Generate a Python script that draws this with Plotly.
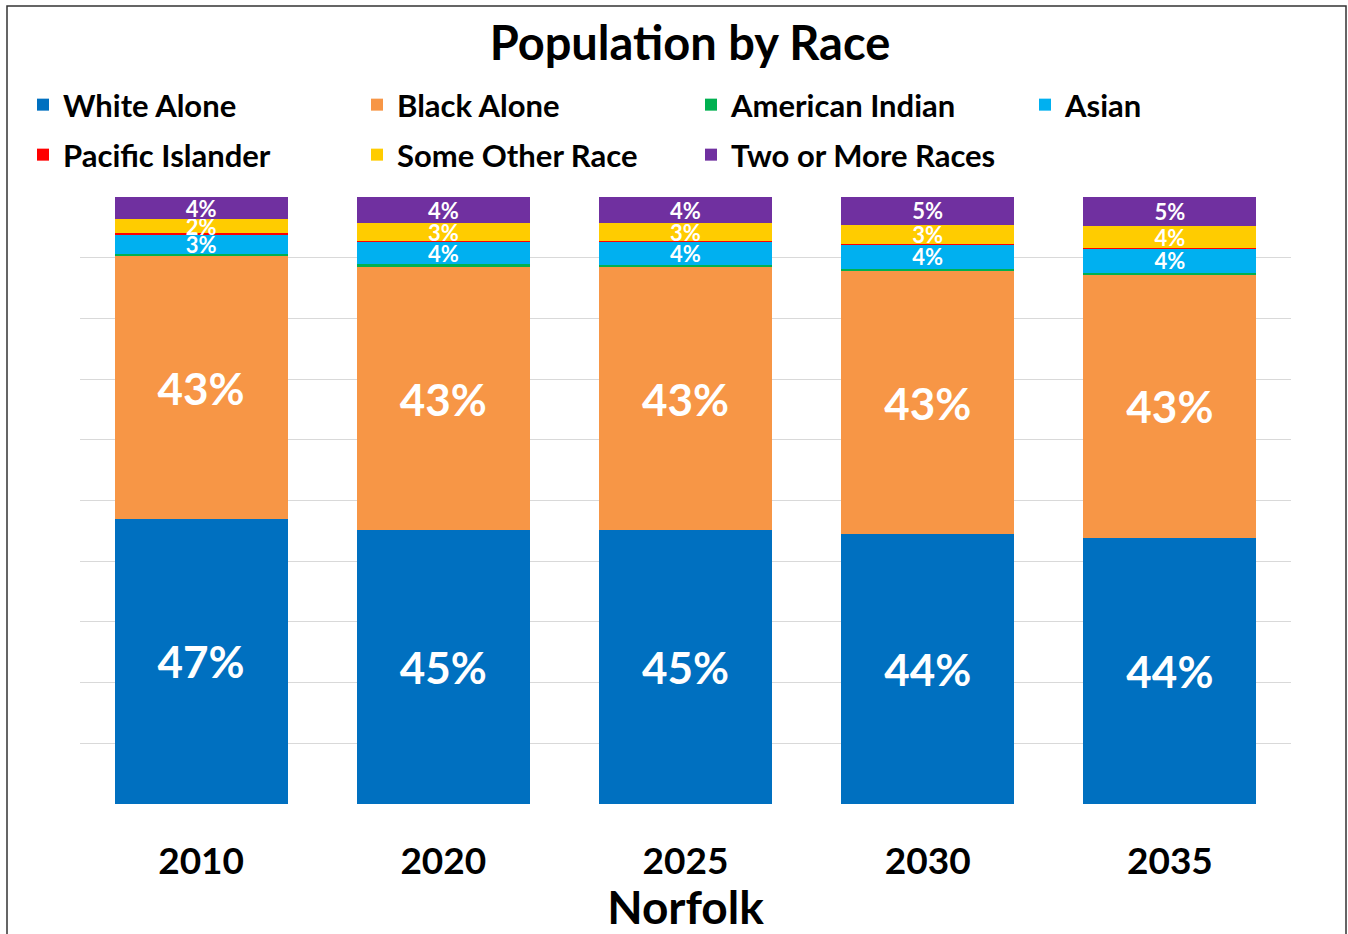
import plotly.graph_objects as go

# Census years / projections for Norfolk
years = ["2010", "2020", "2025", "2030", "2035"]

# Share of population by race (%)
white_alone = [47.0, 45.1, 45.1, 44.4, 43.8]
black_alone = [43.2, 43.4, 43.3, 43.4, 43.4]
american_indian = [0.4, 0.4, 0.4, 0.4, 0.35]
asian = [3.3, 3.7, 3.8, 3.9, 3.9]
pacific_islander = [0.1, 0.1, 0.1, 0.1, 0.15]
some_other_race = [2.3, 3.0, 3.0, 3.2, 3.6]
two_or_more = [3.7, 4.3, 4.3, 4.6, 4.8]

W, H = 1348, 934
M_L, M_R, M_T, M_B = 80, 57, 197, 130
FONT = "Lato"

# name, values, colour, label size (None = unlabeled), legend column, legend row
series = [
    ("White Alone", white_alone, "#0070C0", 44, 0, 0),
    ("Black Alone", black_alone, "#F79646", 44, 1, 0),
    ("American Indian", american_indian, "#00B050", None, 2, 0),
    ("Asian", asian, "#00B0F0", 22, 3, 0),
    ("Pacific Islander", pacific_islander, "#FF0000", None, 0, 1),
    ("Some Other Race", some_other_race, "#FFCC00", 22, 1, 1),
    ("Two or More Races", two_or_more, "#7030A0", 22, 2, 1),
]

legend_cols_px = [23, 357, 691, 1025]
legend_rows_px = [78, 128]

fig = go.Figure()
layout_legends = {}
for i, (name, vals, color, lsize, col, row) in enumerate(series):
    key = "legend" if i == 0 else f"legend{i + 1}"
    if lsize:
        text = [f"{v:.0f}%" for v in vals]
    else:
        text = ["" for _ in vals]
    fig.add_trace(go.Bar(
        x=years, y=vals, name=name,
        marker=dict(color=color, line=dict(width=0)),
        text=text,
        textposition="inside",
        insidetextanchor="middle",
        textangle=0,
        constraintext="none",
        textfont=dict(family=FONT, size=lsize or 10, color="white", weight="bold"),
        hoverinfo="skip",
        legend=key,
    ))
    layout_legends[key] = dict(
        xref="container", yref="container",
        x=legend_cols_px[col] / W, y=1 - legend_rows_px[row] / H,
        xanchor="left", yanchor="top",
        bgcolor="rgba(0,0,0,0)",
        font=dict(family=FONT, size=31, color="black", weight="bold"),
    )

plot_w = W - M_L - M_R
plot_h = H - M_T - M_B

fig.update_layout(
    width=W, height=H,
    margin=dict(l=M_L, r=M_R, t=M_T, b=M_B, autoexpand=False),
    paper_bgcolor="white", plot_bgcolor="white",
    barmode="stack", bargap=0.285,
    showlegend=True,
    title=dict(
        text="Population by Race",
        x=690 / W, xanchor="center",
        y=1 - 44 / H, yanchor="middle",
        xref="container", yref="container",
        font=dict(family=FONT, size=47, color="black", weight="bold"),
    ),
    xaxis=dict(
        tickfont=dict(family=FONT, size=37, color="black", weight="bold"),
        ticks="outside", ticklen=25, tickcolor="rgba(0,0,0,0)",
        showline=False, showgrid=False,
        title=dict(text="Norfolk", standoff=4,
                   font=dict(family=FONT, size=46, color="black", weight="bold")),
    ),
    yaxis=dict(
        range=[0, 100], dtick=10, showticklabels=False,
        showgrid=True, gridcolor="#D9D9D9", gridwidth=1.3,
        zeroline=False, showline=False, ticks="",
    ),
    shapes=[dict(
        type="rect", xref="paper", yref="paper",
        x0=(7 - M_L) / plot_w, x1=(1346 - M_L) / plot_w,
        y0=(H - M_B - 960) / plot_h, y1=(H - M_B - 6) / plot_h,
        line=dict(color="#333333", width=1.5), fillcolor="rgba(0,0,0,0)",
        layer="below",
    )],
    **layout_legends,
)

fig.write_html("out.html")
